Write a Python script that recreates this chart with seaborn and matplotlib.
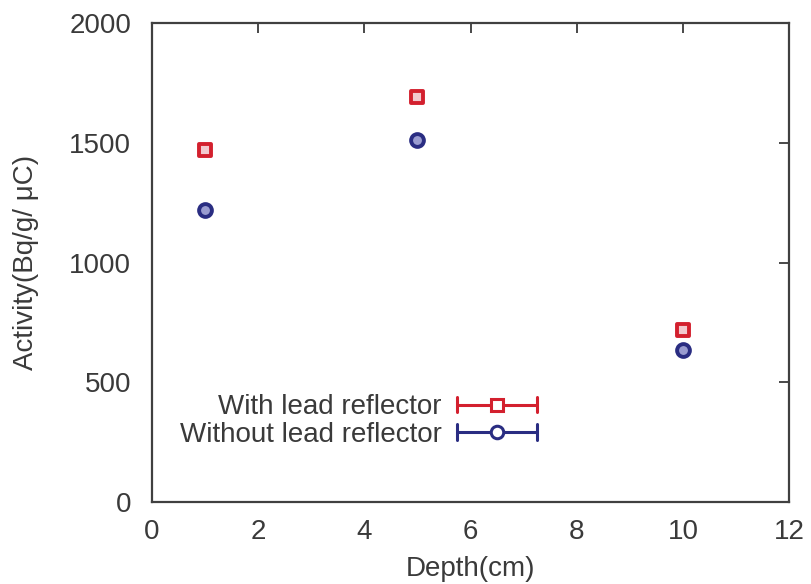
import matplotlib
matplotlib.use("Agg")
import matplotlib.pyplot as plt
from matplotlib.legend_handler import HandlerBase
from matplotlib.lines import Line2D
import seaborn as sns

depth_cm = [1, 5, 10]
with_lead = [1470, 1690, 720]
without_lead = [1218, 1510, 636]
series_names = ["With lead reflector", "Without lead reflector"]
x_ticks = [0, 2, 4, 6, 8, 10, 12]
y_ticks = [0, 500, 1000, 1500, 2000]

red = "#d3202e"
blue = "#2a2d82"
ink = "#3a3a3a"

sns.set_style("white")
plt.rcParams["font.family"] = ["Liberation Sans", "DejaVu Sans"]
plt.rcParams["text.color"] = ink
plt.rcParams["axes.labelcolor"] = ink
plt.rcParams["xtick.color"] = ink
plt.rcParams["ytick.color"] = ink

fig = plt.figure(figsize=(8.11, 5.84), dpi=100)
ax = fig.add_axes([0.1874, 0.1404, 0.7856, 0.8202])

# one scatter layer per series
for values, color, face, marker in [
    (with_lead, red, "#f2c9cf", "s"),
    (without_lead, blue, "#9a9cd0", "o"),
]:
    sns.scatterplot(x=depth_cm, y=values, marker=marker, s=85,
                    color=face, edgecolor=color, linewidth=2.8, ax=ax,
                    legend=False)

ax.set_xlim(0, 12)
ax.set_ylim(0, 2000)
ax.set_xticks(x_ticks)
ax.set_yticks(y_ticks)
ax.tick_params(direction="in", length=7, width=1.3, labelsize=20,
               top=True, right=True)
ax.tick_params(axis="x", pad=12)
ax.tick_params(axis="y", pad=15)
for sp in ax.spines.values():
    sp.set_visible(True)
    sp.set_color("#404040")
    sp.set_linewidth(1.6)
ax.set_xlabel("Depth(cm)", fontsize=20, labelpad=8)
ax.set_ylabel("Activity(Bq/g/ μC)", fontsize=20, labelpad=22)


class ErrorbarHandle(HandlerBase):
    def __init__(self, color, marker, face):
        super().__init__()
        self.color = color
        self.marker = marker
        self.face = face

    def create_artists(self, legend, orig_handle, xdescent, ydescent,
                       width, height, fontsize, trans):
        y = height / 2 - ydescent
        x0 = -xdescent
        x1 = x0 + width
        cap = height * 0.4
        arts = [
            Line2D([x0, x1], [y, y], color=self.color, lw=2.2),
            Line2D([x0, x0], [y - cap, y + cap], color=self.color, lw=2.2),
            Line2D([x1, x1], [y - cap, y + cap], color=self.color, lw=2.2),
            Line2D([(x0 + x1) / 2], [y], marker=self.marker, ms=9,
                   mfc=self.face, mec=self.color, mew=2.2, ls="none"),
        ]
        for a in arts:
            a.set_transform(trans)
        return arts


h_red = Line2D([], [])
h_blue = Line2D([], [])
leg = ax.legend(
    [h_red, h_blue], series_names,
    handler_map={h_red: ErrorbarHandle(red, "s", "white"),
                 h_blue: ErrorbarHandle(blue, "o", "white")},
    loc="upper right", bbox_to_anchor=(0.605, 0.225), frameon=False,
    fontsize=20, markerfirst=False, handlelength=2.9, handletextpad=0.55,
    labelspacing=0.05, borderaxespad=0, borderpad=0,
)

fig.savefig("out.png", dpi=100)
